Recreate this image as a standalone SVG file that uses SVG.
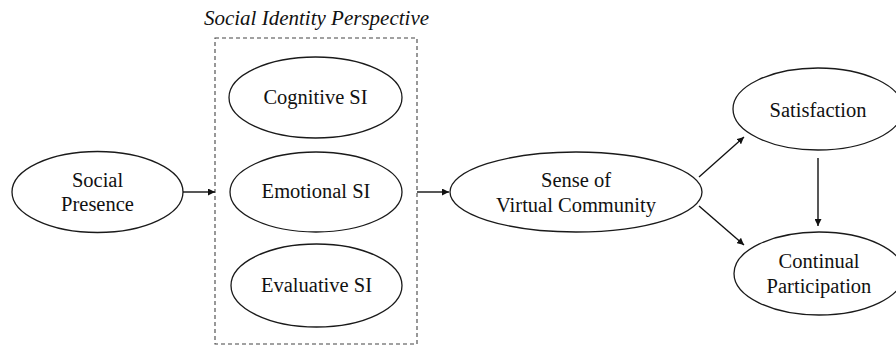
<svg xmlns="http://www.w3.org/2000/svg" width="896" height="345" viewBox="0 0 896 345">
  <style>
    .node { fill: #ffffff; stroke: #1a1a1a; stroke-width: 1.3; }
    .lbl { font-size: 20.5px; fill: #111111; text-anchor: middle; }
    .title { font-style: italic; font-size: 21px; }
    .edge { stroke: #111111; stroke-width: 1.4; fill: none; marker-end: url(#arrow); }
    .frame { fill: none; stroke: #444444; stroke-width: 1.1; stroke-dasharray: 4 3; }
  </style>
  <defs>
    <marker id="arrow" viewBox="0 0 10 10" refX="10" refY="5" markerWidth="7" markerHeight="7" markerUnits="userSpaceOnUse" orient="auto">
      <path d="M0,0 L10,5 L0,10 z" fill="#111111"/>
    </marker>
  </defs>

  <!-- Social identity grouping frame -->
  <g id="social-identity-group">
    <text class="lbl title" x="316.5" y="25" font-family="Liberation Serif" style="font-family: 'Liberation Serif', serif">Social Identity Perspective</text>
    <rect class="frame" x="215" y="38" width="202" height="306"/>
  </g>

  <g id="social-presence">
    <ellipse class="node" cx="97.5" cy="192" rx="85.5" ry="40.5"/>
    <text class="lbl" x="97.5" y="187" font-family="Liberation Serif" style="font-family: 'Liberation Serif', serif">Social</text>
    <text class="lbl" x="97.5" y="211" font-family="Liberation Serif" style="font-family: 'Liberation Serif', serif">Presence</text>
  </g>

  <g id="cognitive-si">
    <ellipse class="node" cx="315.5" cy="97.5" rx="86.5" ry="40.5"/>
    <text class="lbl" x="315.5" y="104" font-family="Liberation Serif" style="font-family: 'Liberation Serif', serif">Cognitive SI</text>
  </g>

  <g id="emotional-si">
    <ellipse class="node" cx="316" cy="192" rx="86" ry="40"/>
    <text class="lbl" x="316" y="198" font-family="Liberation Serif" style="font-family: 'Liberation Serif', serif">Emotional SI</text>
  </g>

  <g id="evaluative-si">
    <ellipse class="node" cx="316.5" cy="285.5" rx="85.5" ry="41.5"/>
    <text class="lbl" x="316.5" y="292" font-family="Liberation Serif" style="font-family: 'Liberation Serif', serif">Evaluative SI</text>
  </g>

  <g id="sense-of-virtual-community">
    <ellipse class="node" cx="576" cy="192" rx="126" ry="40"/>
    <text class="lbl" x="576" y="187" font-family="Liberation Serif" style="font-family: 'Liberation Serif', serif">Sense of</text>
    <text class="lbl" x="576" y="212" font-family="Liberation Serif" style="font-family: 'Liberation Serif', serif">Virtual Community</text>
  </g>

  <g id="satisfaction">
    <ellipse class="node" cx="818" cy="109" rx="85" ry="41"/>
    <text class="lbl" x="818" y="117" font-family="Liberation Serif" style="font-family: 'Liberation Serif', serif">Satisfaction</text>
  </g>

  <g id="continual-participation">
    <ellipse class="node" cx="819" cy="273.5" rx="85" ry="41.5"/>
    <text class="lbl" x="819" y="268" font-family="Liberation Serif" style="font-family: 'Liberation Serif', serif">Continual</text>
    <text class="lbl" x="819" y="293" font-family="Liberation Serif" style="font-family: 'Liberation Serif', serif">Participation</text>
  </g>

  <g id="connectors">
    <line class="edge" x1="183" y1="192" x2="215" y2="192"/>
    <line class="edge" x1="417" y1="192" x2="449" y2="192"/>
    <line class="edge" x1="699" y1="177" x2="744" y2="137"/>
    <line class="edge" x1="699" y1="206" x2="744" y2="245"/>
    <line class="edge" x1="818" y1="158" x2="818" y2="226"/>
  </g>
</svg>
